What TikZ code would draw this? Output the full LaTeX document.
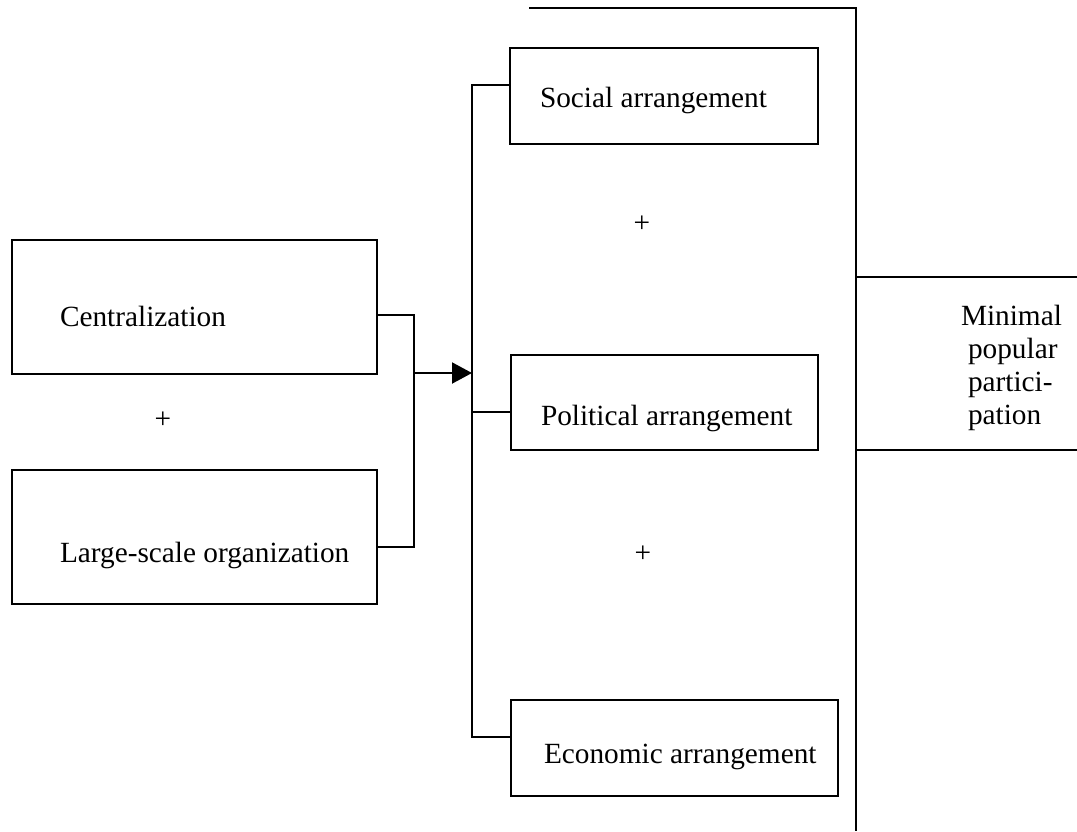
\documentclass[tikz,border=0pt]{standalone}
\usepackage{fontspec}
\setmainfont{Liberation Serif}
\usetikzlibrary{arrows.meta,calc}
\begin{document}
\begin{tikzpicture}[x=1pt,y=-1pt,
  line width=2pt,
  box/.style={draw, line width=2pt, inner sep=0pt, anchor=north west},
  lbl/.style={inner sep=0pt, anchor=base west, font=\fontsize{29.3}{33}\selectfont},
  plus/.style={inner sep=0pt, font=\fontsize{29.3}{33}\selectfont}]
\useasboundingbox (0,0) rectangle (1077,831);
% left boxes
\node[box, minimum width=365pt, minimum height=134pt] (cen) at (11,239) {};
\node[box, minimum width=365pt, minimum height=134pt] (lso) at (11,469) {};
\node[lbl] (cent) at (59,326) {Centralization};
\node[lbl] (lsot) at (59,562) {Large-scale organization};
\node[plus] (p1) at (163,420) {+};
% middle boxes
\node[box, minimum width=308pt, minimum height=96pt] (soc) at (509,47) {};
\node[box, minimum width=307pt, minimum height=95pt] (pol) at (510,354) {};
\node[box, minimum width=327pt, minimum height=96pt] (eco) at (510,699) {};
\node[lbl] (soct) at (539,107) {Social arrangement};
\node[lbl] (polt) at (540,425) {Political arrangement};
\node[lbl] (ecot) at (543,763) {Economic arrangement};
\node[plus] (p2) at (642,224) {+};
\node[plus] (p3) at (643,554) {+};
% bracket on the left
\coordinate (c1) at ($(cen.north east)+(0,76)$);
\coordinate (c2) at ($(lso.north east)+(0,78)$);
\coordinate (j) at (414,373);
\draw (c1) -| (j) |- (c2);
% spine
\coordinate (st) at (472,85);
\coordinate (sb) at (472,737);
\coordinate (pb) at (472,412);
\draw (st -| soc.west) -- (st) -- (sb) -- (sb -| eco.west);
\draw (pb) -- (pb -| pol.west);
\draw[-{Triangle[length=20pt,width=21pt]}] (j) -- (j -| st);
% right frame
\coordinate (tl) at (529,8);
\coordinate (rt) at (856,8);
\coordinate (rb) at (856,831);
\draw (tl) -- (rt) -- (rb);
\coordinate (mt) at (856,277);
\coordinate (mb) at (856,450);
\draw (mt) -- (mt -| 1077,0);
\draw (mb) -- (mb -| 1077,0);
\node[lbl, align=left] (min) at (967,424) {\hspace*{-7pt}Minimal\\popular\\partici-\\pation};
\end{tikzpicture}
\end{document}
